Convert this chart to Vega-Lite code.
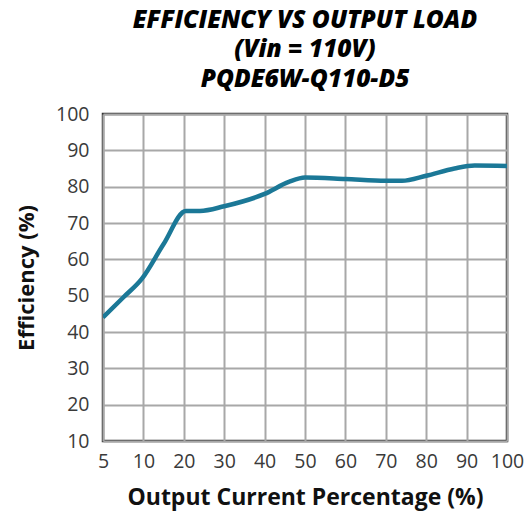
{
  "$schema": "https://vega.github.io/schema/vega-lite/v6.json",
  "width": 404,
  "height": 327,
  "autosize": {"type": "none"},
  "padding": {"left": 103, "top": 114, "right": 20, "bottom": 77},
  "background": "white",
  "config": {
    "font": "Open Sans",
    "view": {"stroke": "#333333", "strokeWidth": 2.5},
    "axis": {
      "domain": false,
      "ticks": false,
      "grid": true,
      "gridColor": "#a8a8a8",
      "gridWidth": 2,
      "gridOpacity": 1,
      "labelFont": "Open Sans",
      "labelFontSize": 19.5,
      "labelFontWeight": 500,
      "labelColor": "#3a3a3a",
      "titleFont": "Open Sans",
      "titleFontWeight": "bold",
      "titleColor": "#111111"
    }
  },
  "title": {
    "text": ["EFFICIENCY VS OUTPUT LOAD", "(Vin = 110V)", "PQDE6W-Q110-D5"],
    "font": "Open Sans",
    "fontSize": 24.5,
    "fontWeight": 800,
    "fontStyle": "italic",
    "color": "#000000",
    "lineHeight": 29.5,
    "anchor": "middle",
    "offset": 12
  },
  "data": {
    "values": [
      {"load": 5, "eff": 44},
      {"load": 7.5, "eff": 49.5},
      {"load": 9.8, "eff": 54.6},
      {"load": 15, "eff": 64.2},
      {"load": 20.5, "eff": 73.3},
      {"load": 24, "eff": 73.3},
      {"load": 30, "eff": 74.6},
      {"load": 40, "eff": 78},
      {"load": 46, "eff": 81.3},
      {"load": 50, "eff": 82.5},
      {"load": 60, "eff": 82.1},
      {"load": 70, "eff": 81.6},
      {"load": 74, "eff": 81.6},
      {"load": 80, "eff": 83},
      {"load": 87, "eff": 85},
      {"load": 92, "eff": 85.8},
      {"load": 100, "eff": 85.7}
    ]
  },
  "mark": {"type": "line", "interpolate": "monotone", "color": "#1b7897", "strokeWidth": 4.5, "clip": true},
  "encoding": {
    "x": {
      "field": "load",
      "type": "quantitative",
      "title": "Output Current Percentage (%)",
      "scale": {"domain": [5, 10, 100], "range": [0, 40.4, 404], "nice": false, "zero": false},
      "axis": {"values": [5, 10, 20, 30, 40, 50, 60, 70, 80, 90, 100], "labelPadding": 11, "titlePadding": 16, "titleFontSize": 23, "labelFlush": false, "labelOverlap": false}
    },
    "y": {
      "field": "eff",
      "type": "quantitative",
      "title": "Efficiency (%)",
      "scale": {"domain": [10, 100], "nice": false, "zero": false},
      "axis": {"values": [10, 20, 30, 40, 50, 60, 70, 80, 90, 100], "labelPadding": 14, "titlePadding": 17, "titleFontSize": 22, "labelFlush": false}
    }
  }
}
